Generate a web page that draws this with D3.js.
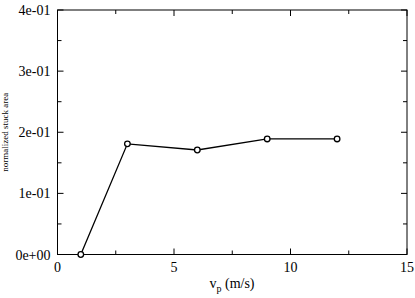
<!DOCTYPE html>
<html>
<head>
<meta charset="utf-8">
<script src="https://cdn.jsdelivr.net/npm/d3@7"></script>
<style>
  body { margin: 0; background: #fff; }
</style>
</head>
<body>
<script>
// data
const vp = [1, 3, 6, 9, 12];
const stuckArea = [0.0, 0.181, 0.171, 0.189, 0.189];
const xTicks = [0, 5, 10, 15];
const yTicks = [0, 0.1, 0.2, 0.3, 0.4];
const yTickLabels = ["0e+00", "1e-01", "2e-01", "3e-01", "4e-01"];

window.onload = function() {
  const w = 415;
  const h = 298;
  const left = 57.5, right = 407, top = 10, bottom = 254.5;
  const serif = "'Liberation Serif'";

  let svg = d3.select("body")
    .append("svg")
    .attr("width", w)
    .attr("height", h)
    .attr("font-family", serif);

  let xScale = d3.scaleLinear().domain([0, 15]).range([left, right]);
  let yScale = d3.scaleLinear().domain([0, 0.4]).range([bottom, top]);

  // frame
  svg.append("rect")
    .attr("x", left).attr("y", top)
    .attr("width", right - left).attr("height", bottom - top)
    .attr("fill", "none").attr("stroke", "#000").attr("stroke-width", 1);

  // inner ticks, major and minor, on all four sides
  const xMinor = d3.range(0, 15.01, 2.5);
  const yMinor = d3.range(0, 0.401, 0.05);
  let ticks = svg.append("g").attr("stroke", "#000").attr("stroke-width", 1);
  xMinor.forEach(function(v) {
    const len = (v % 5 === 0) ? 6 : 4;
    const x = xScale(v);
    ticks.append("line").attr("x1", x).attr("x2", x).attr("y1", bottom).attr("y2", bottom - len);
    ticks.append("line").attr("x1", x).attr("x2", x).attr("y1", top).attr("y2", top + len);
  });
  yMinor.forEach(function(v, i) {
    const len = (i % 2 === 0) ? 6 : 4;
    const y = yScale(v);
    ticks.append("line").attr("x1", left).attr("x2", left + len).attr("y1", y).attr("y2", y);
    ticks.append("line").attr("x1", right).attr("x2", right - len).attr("y1", y).attr("y2", y);
  });

  // tick labels
  svg.selectAll(".xlab")
    .data(xTicks)
    .enter()
    .append("text")
    .attr("x", function(d) { return xScale(d); })
    .attr("y", bottom + 17)
    .attr("text-anchor", "middle")
    .attr("font-family", serif)
    .attr("font-size", 14)
    .text(function(d) { return d; });

  svg.selectAll(".ylab")
    .data(yTicks)
    .enter()
    .append("text")
    .attr("x", left - 7)
    .attr("y", function(d) { return yScale(d) + 5; })
    .attr("text-anchor", "end")
    .attr("font-family", serif)
    .attr("font-size", 14)
    .text(function(d, i) { return yTickLabels[i]; });

  // axis titles
  let xt = svg.append("text")
    .attr("x", 232)
    .attr("y", 288)
    .attr("text-anchor", "middle")
    .attr("font-family", serif)
    .attr("font-size", 14);
  xt.append("tspan").text("v");
  xt.append("tspan").attr("dy", 4).attr("font-size", 10).text("p");
  xt.append("tspan").attr("dy", -4).text(" (m/s)");

  svg.append("text")
    .attr("transform", "translate(8," + ((top + bottom) / 2) + ") rotate(-90)")
    .attr("text-anchor", "middle")
    .attr("font-family", serif)
    .attr("font-size", 9)
    .text("normalized stuck area");

  // line and markers
  const pts = vp.map(function(v, i) { return [v, stuckArea[i]]; });
  let line = d3.line()
    .x(function(d) { return xScale(d[0]); })
    .y(function(d) { return yScale(d[1]); });

  svg.append("path")
    .datum(pts)
    .attr("d", line)
    .attr("fill", "none")
    .attr("stroke", "#000")
    .attr("stroke-width", 1.3);

  svg.selectAll("circle")
    .data(pts)
    .enter()
    .append("circle")
    .attr("cx", function(d) { return xScale(d[0]); })
    .attr("cy", function(d) { return yScale(d[1]); })
    .attr("r", 2.8)
    .attr("fill", "#fff")
    .attr("stroke", "#000")
    .attr("stroke-width", 1.3);
};
</script>
</body>
</html>
